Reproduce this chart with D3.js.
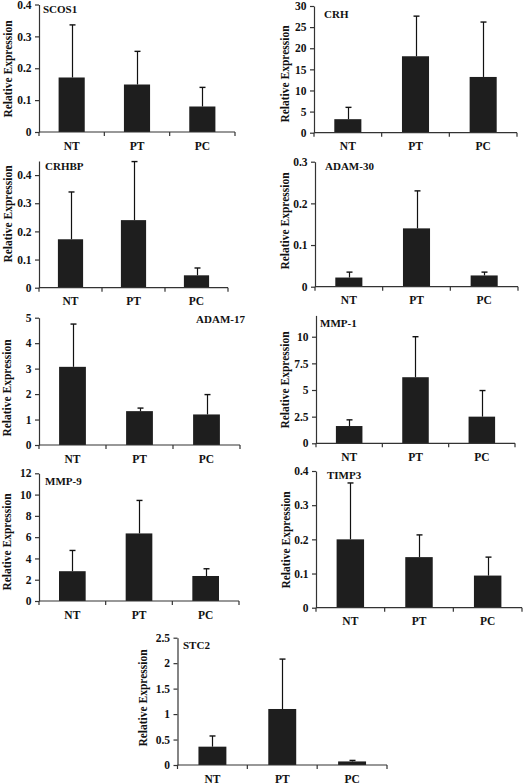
<!DOCTYPE html>
<html><head><meta charset="utf-8">
<script src="https://cdn.jsdelivr.net/npm/d3@7"></script>
<style>
body{margin:0;background:#fff}
svg text{font-family:"Liberation Serif","Times New Roman",serif;font-weight:bold;fill:#111}
</style></head>
<body><svg id="c" width="525" height="783"></svg>
<script>
// ---- data ----
const categories = ["NT", "PT", "PC"];
const genes = ["SCOS1", "CRH", "CRHBP", "ADAM-30", "ADAM-17", "MMP-1", "MMP-9", "TIMP3", "STC2"];
const meanSCOS1 = [0.171, 0.149, 0.080];
const errSCOS1  = [0.165, 0.104, 0.060];
const meanCRH   = [3.2, 18.1, 13.2];
const errCRH    = [2.8, 9.5, 13.0];
const meanCRHBP = [0.172, 0.240, 0.044];
const errCRHBP  = [0.168, 0.208, 0.026];
const meanADAM30 = [0.022, 0.140, 0.027];
const errADAM30  = [0.013, 0.090, 0.008];
const meanADAM17 = [3.07, 1.33, 1.20];
const errADAM17  = [1.68, 0.12, 0.78];
const meanMMP1 = [1.62, 6.2, 2.5];
const errMMP1  = [0.58, 3.8, 2.45];
const meanMMP9 = [2.8, 6.35, 2.35];
const errMMP9  = [1.95, 3.1, 0.68];
const meanTIMP3 = [0.200, 0.148, 0.094];
const errTIMP3  = [0.165, 0.065, 0.054];
const meanSTC2 = [0.36, 1.10, 0.07];
const errSTC2  = [0.21, 0.98, 0.02];
const yTicksList = [
  [0, 0.1, 0.2, 0.3, 0.4],
  [0, 5, 10, 15, 20, 25, 30],
  [0, 0.1, 0.2, 0.3, 0.4],
  [0, 0.1, 0.2, 0.3],
  [0, 1, 2, 3, 4, 5],
  [0, 2.5, 5, 7.5, 10],
  [0, 2, 4, 6, 8, 10, 12],
  [0, 0.1, 0.2, 0.3, 0.4],
  [0, 0.5, 1, 1.5, 2, 2.5]
];
const yMaxList = [0.4, 30, 0.45, 0.3, 5, 12, 12, 0.4, 2.5];
const yLabel = "Relative Expression";
const meansList = [meanSCOS1, meanCRH, meanCRHBP, meanADAM30, meanADAM17, meanMMP1, meanMMP9, meanTIMP3, meanSTC2];
const errList = [errSCOS1, errCRH, errCRHBP, errADAM30, errADAM17, errMMP1, errMMP9, errTIMP3, errSTC2];

// ---- layout (pixel frames of each panel) ----
const layout = [
  {l: 39,  r: 235, b: 132,   t: 4.5,   tx: 43,  ty: 12.5, ta: "start", lx: 12,  ly: 69},
  {l: 314, r: 517, b: 132.7, t: 6,     tx: 324, ty: 17.5, ta: "start", lx: 289, ly: 74},
  {l: 39,  r: 228, b: 287.7, t: 161,   tx: 45,  ty: 170,  ta: "start", lx: 12,  ly: 214},
  {l: 315, r: 518, b: 286.7, t: 161.7, tx: 325, ty: 169.5,ta: "start", lx: 289, ly: 221},
  {l: 39,  r: 240, b: 445,   t: 317.7, tx: 245, ty: 323,  ta: "end",   lx: 11,  ly: 388},
  {l: 316, r: 515, b: 443.3, t: 315.4, tx: 320, ty: 327,  ta: "start", lx: 289, ly: 380},
  {l: 39,  r: 239, b: 601,   t: 473.3, tx: 45,  ty: 485,  ta: "start", lx: 11,  ly: 542},
  {l: 316, r: 522, b: 607.7, t: 471,   tx: 327, ty: 479,  ta: "start", lx: 290, ly: 540},
  {l: 177.5, r: 387, b: 765, t: 637.7, tx: 183, ty: 649,  ta: "start", lx: 147, ly: 698}
];

const svg = d3.select("#c");
const axisColor = "#333";
const barColor = "#1e1e1e";

genes.forEach((g, i) => {
  const L = layout[i];
  const x = d3.scaleBand().domain(categories).range([L.l, L.r]).paddingInner(0.6).paddingOuter(0.3);
  const y = d3.scaleLinear().domain([0, yMaxList[i]]).range([L.b, L.t]);
  const p = svg.append("g");

  // bars
  p.selectAll("rect.bar").data(categories).join("rect")
    .attr("x", c => x(c)).attr("width", x.bandwidth())
    .attr("y", (c, j) => y(meansList[i][j]))
    .attr("height", (c, j) => L.b - y(meansList[i][j]))
    .attr("fill", barColor);

  // error bars (upper only)
  categories.forEach((c, j) => {
    const cx = Math.round(x(c) + x.bandwidth() / 2) + 0.5;
    const top = y(meansList[i][j] + errList[i][j]);
    p.append("line").attr("x1", cx).attr("x2", cx)
      .attr("y1", y(meansList[i][j])).attr("y2", top)
      .attr("stroke", "#111").attr("stroke-width", 1.2);
    p.append("line").attr("x1", cx - 3).attr("x2", cx + 3)
      .attr("y1", top).attr("y2", top)
      .attr("stroke", "#111").attr("stroke-width", 1.4);
  });

  // y axis
  const yAxis = d3.axisLeft(y).tickValues(yTicksList[i]).tickSize(4).tickSizeOuter(0)
    .tickFormat(d => String(d));
  const ya = p.append("g").attr("transform", `translate(${L.l},0)`).call(yAxis);
  ya.select(".domain").attr("stroke", axisColor).attr("stroke-width", 1.2);
  ya.selectAll(".tick line").attr("stroke", axisColor).attr("stroke-width", 1.2);
  ya.selectAll(".tick text").attr("x", -7.5).attr("font-size", 11.5)
    .attr("font-family", "Liberation Serif").attr("font-weight", "bold").attr("fill", "#111");

  // x axis with ticks at band boundaries
  p.append("line").attr("x1", L.l).attr("x2", L.r).attr("y1", L.b).attr("y2", L.b)
    .attr("stroke", axisColor).attr("stroke-width", 1.2);
  [0, 1, 2, 3].forEach(k => {
    const bx = L.l + (L.r - L.l) * k / 3;
    p.append("line").attr("x1", bx).attr("x2", bx).attr("y1", L.b).attr("y2", L.b + 4)
      .attr("stroke", axisColor).attr("stroke-width", 1.2);
  });
  p.selectAll("text.cat").data(categories).join("text")
    .attr("x", c => x(c) + x.bandwidth() / 2).attr("y", L.b + 17.5)
    .attr("text-anchor", "middle").attr("font-size", 11.5).text(c => c);

  // title
  p.append("text").attr("x", L.tx).attr("y", L.ty).attr("text-anchor", L.ta)
    .attr("font-size", 11).text(g);

  // y label
  p.append("text").attr("transform", `translate(${L.lx},${L.ly}) rotate(-90)`)
    .attr("text-anchor", "middle").attr("font-size", 11.5).text(yLabel);
});
</script></body></html>
